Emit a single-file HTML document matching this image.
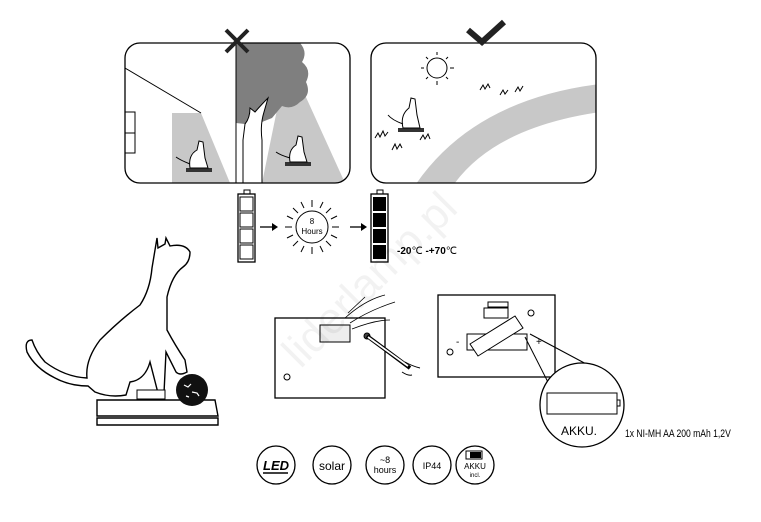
<!DOCTYPE html>
<html><head><meta charset="utf-8"><style>
html,body{margin:0;padding:0;background:#fff;width:761px;height:522px;overflow:hidden}
svg{display:block;font-family:"Liberation Sans",sans-serif}
</style></head><body>
<svg width="761" height="522" viewBox="0 0 761 522" xmlns="http://www.w3.org/2000/svg">
<defs>
<clipPath id="cl"><rect x="125" y="43" width="225" height="140" rx="15"/></clipPath>
<clipPath id="cr"><rect x="371" y="43" width="225" height="140" rx="15"/></clipPath>
</defs>
<!-- left panel -->
<g clip-path="url(#cl)">
<polygon points="172,113 201,113 230,183 172,183" fill="#c8c8c8"/>
<polygon points="280,95 305,95 345,183 262,183" fill="#c8c8c8"/>
<path d="M236,43 L300,43 Q308,52 302,62 Q312,70 306,82 Q312,95 300,102 Q292,110 282,106 L272,118 L262,122 L245,124 L236,123 Z" fill="#7f7f7f"/>
<path d="M245,124 Q250,118 250,108 L255,112 Q262,104 268,98 L264,112 Q260,125 262,140 L262,183 L243,183 L243,140 Z" fill="#fff" stroke="#000" stroke-width="1"/>
<line x1="236" y1="43" x2="236" y2="183" stroke="#000" stroke-width="1"/>
<line x1="125" y1="68" x2="201" y2="113" stroke="#000" stroke-width="1"/>
<rect x="119" y="112" width="16" height="41" fill="none" stroke="#000"/>
<line x1="125" y1="133" x2="135" y2="133" stroke="#000"/>
<rect x="186" y="168" width="26" height="4" fill="#333"/>
<path d="M190,168 Q188,155 197,150 L199,141 L203,142 L205,158 L208,168 Z M190,164 Q180,160 176,157" fill="#fff" stroke="#000" stroke-width="1"/>
<rect x="285" y="162" width="26" height="4" fill="#333"/>
<path d="M290,162 Q288,150 296,145 L298,136 L302,137 L304,152 L307,162 Z M290,158 Q280,155 276,152" fill="#fff" stroke="#000" stroke-width="1"/>
</g>
<rect x="125" y="43" width="225" height="140" rx="15" fill="none" stroke="#000" stroke-width="1.3"/>
<path d="M226,30 L248,52 M248,30 L226,52" stroke="#222" stroke-width="4"/>
<!-- right panel -->
<g clip-path="url(#cr)">
<path d="M412,190 Q470,100 600,84 L600,112 Q490,128 450,190 Z" fill="#c8c8c8"/>
<circle cx="437" cy="68" r="10" fill="none" stroke="#000"/>
<g stroke="#000" stroke-width="1">
<line x1="437" y1="52" x2="437" y2="55"/><line x1="437" y1="81" x2="437" y2="85"/>
<line x1="421" y1="68" x2="424" y2="68"/><line x1="450" y1="68" x2="454" y2="68"/>
<line x1="426" y1="57" x2="428" y2="59"/><line x1="446" y1="77" x2="448" y2="79"/>
<line x1="448" y1="57" x2="446" y2="59"/><line x1="426" y1="79" x2="428" y2="77"/>
</g>
<rect x="398" y="128" width="26" height="4" fill="#333"/>
<path d="M403,128 Q400,115 409,108 L411,98 L415,99 L417,115 L420,128 Z M403,124 Q392,120 388,115" fill="#fff" stroke="#000"/>
<path d="M375,138 l3,-5 2,4 3,-6 2,5 3,-4 M392,150 l3,-6 2,5 3,-5 2,4 M420,140 l3,-5 2,4 3,-5 2,5 M480,90 l3,-5 2,4 3,-5 2,4 M500,95 l3,-5 2,4 3,-4 M515,92 l3,-5 2,4 3,-5" fill="none" stroke="#000"/>
</g>
<rect x="371" y="43" width="225" height="140" rx="15" fill="none" stroke="#000" stroke-width="1.3"/>
<path d="M468,30 L482,42 L504,22" fill="none" stroke="#222" stroke-width="6"/>
<!-- batteries row -->
<rect x="244" y="190" width="6" height="4" fill="none" stroke="#000"/>
<rect x="238" y="194" width="17" height="68" fill="none" stroke="#000" stroke-width="1.3"/>
<g fill="none" stroke="#000"><rect x="240" y="197" width="13" height="14"/><rect x="240" y="213" width="13" height="14"/><rect x="240" y="229" width="13" height="14"/><rect x="240" y="245" width="13" height="14"/></g>
<line x1="260" y1="227" x2="272" y2="227" stroke="#000" stroke-width="1.3"/><polygon points="272,223 278,227 272,231"/>
<circle cx="312" cy="227" r="16" fill="none" stroke="#000"/>
<g stroke="#000"><line x1="312" y1="200" x2="312" y2="207"/><line x1="312" y1="247" x2="312" y2="254"/><line x1="285" y1="227" x2="292" y2="227"/><line x1="332" y1="227" x2="339" y2="227"/><line x1="293" y1="208" x2="298" y2="213"/><line x1="326" y1="241" x2="331" y2="246"/><line x1="331" y1="208" x2="326" y2="213"/><line x1="293" y1="246" x2="298" y2="241"/><line x1="301" y1="202" x2="304" y2="208"/><line x1="323" y1="202" x2="320" y2="208"/><line x1="301" y1="252" x2="304" y2="246"/><line x1="323" y1="252" x2="320" y2="246"/><line x1="287" y1="216" x2="293" y2="219"/><line x1="337" y1="216" x2="331" y2="219"/><line x1="287" y1="238" x2="293" y2="235"/><line x1="337" y1="238" x2="331" y2="235"/></g>
<text x="312" y="224" font-size="8" text-anchor="middle">8</text>
<text x="312" y="234" font-size="8" text-anchor="middle">Hours</text>
<line x1="350" y1="227" x2="361" y2="227" stroke="#000" stroke-width="1.3"/><polygon points="361,223 367,227 361,231"/>
<rect x="377" y="190" width="6" height="4" fill="none" stroke="#000"/>
<rect x="371" y="194" width="17" height="68" fill="#fff" stroke="#000" stroke-width="1.3"/>
<g fill="#000"><rect x="373" y="197" width="13" height="14"/><rect x="373" y="213" width="13" height="14"/><rect x="373" y="229" width="13" height="14"/><rect x="373" y="245" width="13" height="14"/></g>
<text x="397" y="254" font-size="10" font-weight="bold">-20<tspan font-weight="normal">℃</tspan> -+70<tspan font-weight="normal">℃</tspan></text>
<!-- big cat -->
<path d="M157,238 L158,248 L165,244 L166,238 L170,246 Q185,243 190,252 Q190,262 183,267 Q172,275 167,297 L167,330 Q175,345 185,360 L187,372 Q180,376 176,372 L166,352 L164,393 L158,393 L150,362 Q145,380 130,382 L126,395 Q110,398 95,392 L88,386 Q70,386 55,378 Q35,368 27,352 Q24,340 32,340 Q36,352 45,362 Q65,377 87,378 Q85,360 100,340 Q120,320 140,305 Q150,290 152,268 Z" fill="#fff" stroke="#000" stroke-width="1.4"/>
<path d="M97,400 L215,400 L218,416 L97,416 Z M97,418 L218,418 L218,425 L97,425 Z" fill="#fff" stroke="#000" stroke-width="1.4"/>
<rect x="137" y="390" width="28" height="9" fill="#fff" stroke="#000"/>
<circle cx="192" cy="390" r="16" fill="#111"/>
<path d="M184,385 l4,2 3,-3 M192,392 l5,1 2,3 M186,396 l3,1" stroke="#fff" stroke-width="1.2" fill="none"/>
<!-- install panel -->
<rect x="275" y="318" width="110" height="80" fill="#fff" stroke="#000" stroke-width="1.3"/>
<rect x="320" y="325" width="30" height="17" fill="#eee" stroke="#000"/>
<circle cx="287" cy="377" r="3" fill="none" stroke="#000"/>
<circle cx="367" cy="336" r="3" fill="#444" stroke="#000"/>
<path d="M367,336 L410,368" stroke="#000" stroke-width="4"/><path d="M368,337 L408,366" stroke="#fff" stroke-width="1.8"/>
<path d="M405,362 Q412,366 420,368 M402,372 Q408,376 412,375" fill="none" stroke="#000"/>
<path d="M350,323 Q370,310 395,302 M345,318 Q365,300 385,295 M352,329 Q375,320 390,320" fill="none" stroke="#000" stroke-width="0.8"/>
<line x1="348" y1="313" x2="365" y2="297" stroke="#000" stroke-width="0.8"/>
<!-- battery compartment -->
<rect x="438" y="295" width="117" height="82" fill="#fff" stroke="#000" stroke-width="1.3"/>
<rect x="488" y="302" width="20" height="5" fill="none" stroke="#000"/>
<rect x="484" y="308" width="24" height="10" fill="none" stroke="#000"/>
<circle cx="531" cy="313" r="3" fill="none" stroke="#000"/><circle cx="450" cy="352" r="3" fill="none" stroke="#000"/>
<rect x="467" y="334" width="60" height="16" fill="none" stroke="#000"/>
<path d="M475,350 L520,322 L528,334 L483,362 Z" fill="#fff" stroke="#000" transform="translate(-5,-6)"/>
<text x="456" y="345" font-size="10">-</text><text x="536" y="345" font-size="10">+</text>
<line x1="525" y1="337" x2="553" y2="392" stroke="#000"/><line x1="530" y1="334" x2="590" y2="366" stroke="#000"/>
<circle cx="582" cy="405" r="42" fill="#fff" stroke="#000" stroke-width="1.3"/>
<rect x="547" y="393" width="70" height="21" fill="none" stroke="#000"/>
<rect x="617" y="400" width="3" height="6" fill="none" stroke="#000"/>
<text x="579" y="435" font-size="12" text-anchor="middle">AKKU.</text>
<text x="625" y="437" font-size="11" transform="scale(0.78,1)" transform-origin="625 437">1x NI-MH AA 200 mAh 1,2V</text>
<!-- icons -->
<g fill="#fff" stroke="#000" stroke-width="1.3">
<circle cx="276" cy="465" r="19"/><circle cx="332" cy="465" r="19"/><circle cx="385" cy="465" r="19"/><circle cx="432" cy="465" r="19"/><circle cx="475" cy="465" r="19"/></g>
<text x="276" y="470" font-size="13" font-weight="bold" font-style="italic" text-anchor="middle">LED</text>
<line x1="263" y1="473" x2="288" y2="473" stroke="#000" stroke-width="1.5"/>
<text x="332" y="470" font-size="12" text-anchor="middle">solar</text>
<text x="385" y="463" font-size="9" text-anchor="middle">~8</text>
<text x="385" y="473" font-size="9" text-anchor="middle">hours</text>
<text x="432" y="469" font-size="9" text-anchor="middle">IP44</text>
<rect x="466" y="451" width="16" height="8" fill="none" stroke="#000"/><rect x="470" y="452" width="11" height="6"/>
<text x="475" y="469" font-size="8" text-anchor="middle">AKKU</text>
<text x="475" y="477" font-size="6" text-anchor="middle">incl.</text>
<!-- watermark -->
<text x="380" y="290" font-size="44" fill="#000" fill-opacity="0.05" text-anchor="middle" transform="rotate(-45 380 290)">liderlamp.pl</text>
</svg>
</body></html>
